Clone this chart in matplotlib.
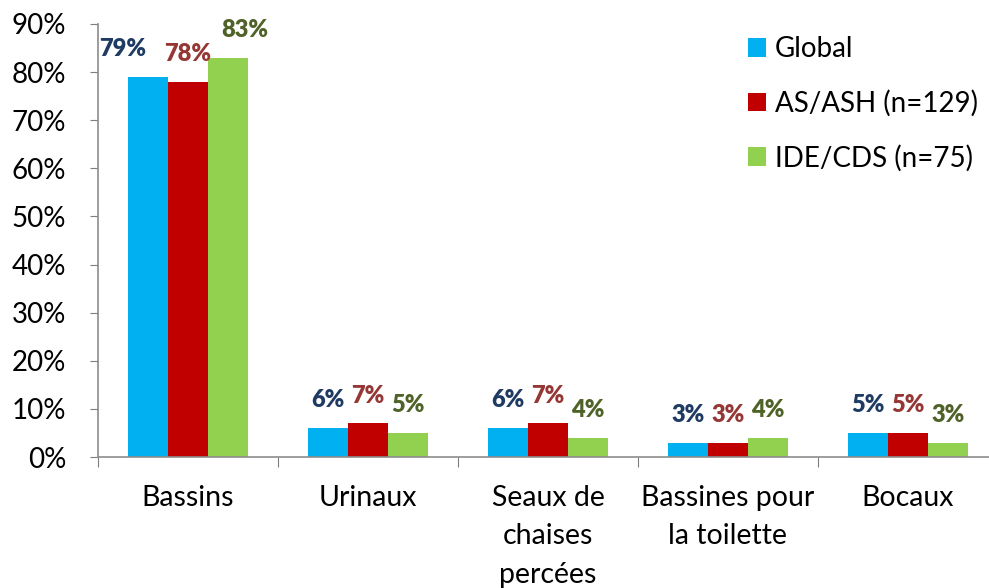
import matplotlib.pyplot as plt
import numpy as np

plt.rcParams['font.family'] = ['Lato', 'DejaVu Sans']

categories = ["Bassins", "Urinaux", "Seaux de\nchaises\npercées", "Bassines pour\nla toilette", "Bocaux"]
series = ["Global", "AS/ASH (n=129)", "IDE/CDS (n=75)"]
global_vals = [79, 6, 6, 3, 5]
asash_vals = [78, 7, 7, 3, 5]
idecds_vals = [83, 5, 4, 4, 3]

bar_colors = ["#00B0F0", "#C00000", "#92D050"]
label_colors = ["#1F3B63", "#953735", "#4F6228"]

fig = plt.figure(figsize=(9.89, 5.88), dpi=100)
ax = fig.add_axes([98 / 989, 1 - 457 / 588, 900 / 989, 433 / 588])

x = np.arange(len(categories))
w = 40 / 180
all_vals = [global_vals, asash_vals, idecds_vals]
for i, vals in enumerate(all_vals):
    pos = x + (i - 1) * w
    bars = ax.bar(pos, vals, width=w, color=bar_colors[i], label=series[i])
    for j, (p, v) in enumerate(zip(pos, vals)):
        dx = 0
        # Bassins labels nudged sideways like in the original
        if j == 0 and i == 0:
            dx = -18
        if j == 0 and i == 2:
            dx = 12
        ax.annotate(f"{v}%", (p, v), xytext=(dx, 20), textcoords="offset points",
                    ha="center", va="center", fontsize=17, fontweight="heavy",
                    color=label_colors[i])

ax.set_xlim(-0.5, len(categories) - 0.5)
ax.set_ylim(0, 90)
ax.set_yticks(range(0, 91, 10))
ax.set_yticklabels([f"{t}%" for t in range(0, 91, 10)], fontsize=20)

ax.set_xticks(np.arange(-0.5, len(categories), 1.0))
ax.set_xticklabels([])
ax.set_xticks(x, minor=True)
ax.set_xticklabels(categories, minor=True, fontsize=20.5, linespacing=1.6, va="top")
ax.tick_params(axis="x", which="minor", length=0, pad=20)
ax.tick_params(axis="x", which="major", length=7, color="#7f7f7f", direction="out")
ax.tick_params(axis="y", length=6, color="#7f7f7f", direction="out", pad=17)

for s in ["top", "right"]:
    ax.spines[s].set_visible(False)
for s in ["left", "bottom"]:
    ax.spines[s].set_color("#8c8c8c")
    ax.spines[s].set_linewidth(1.2)

leg = ax.legend(loc="upper left", bbox_to_anchor=(748 / 989, 1 - 36 / 588),
                bbox_transform=fig.transFigure, frameon=False, fontsize=20,
                borderaxespad=0, borderpad=0,
                handlelength=0.65, handleheight=0.65, handletextpad=0.32,
                labelspacing=1.0)

fig.savefig("out.png", dpi=100)
